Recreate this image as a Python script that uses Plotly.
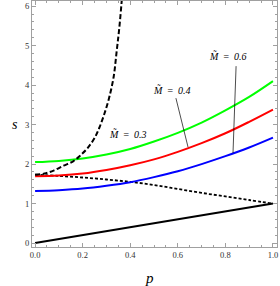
import plotly.graph_objects as go

# ---- data ----
p_grid = [0.0, 0.1, 0.2, 0.3, 0.4, 0.5, 0.6, 0.7, 0.8, 0.9, 1.0]
s_green = [2.05, 2.08, 2.14, 2.24, 2.38, 2.57, 2.79, 3.05, 3.36, 3.70, 4.10]
s_red = [1.69, 1.71, 1.76, 1.85, 1.97, 2.12, 2.31, 2.53, 2.78, 3.07, 3.38]
s_blue = [1.32, 1.34, 1.38, 1.45, 1.54, 1.67, 1.82, 2.00, 2.20, 2.42, 2.67]
s_dotted = [1.73, 1.70, 1.66, 1.61, 1.55, 1.47, 1.37, 1.27, 1.18, 1.09, 1.00]
s_solid = [0.0, 0.1, 0.2, 0.3, 0.4, 0.5, 0.6, 0.7, 0.8, 0.9, 1.0]

p_dashed = [0.0, 0.04, 0.08, 0.12, 0.16, 0.19, 0.22, 0.25, 0.27, 0.29, 0.31, 0.33, 0.343, 0.354, 0.364, 0.37]
s_dashed = [1.73, 1.76, 1.84, 1.96, 2.07, 2.22, 2.40, 2.66, 2.92, 3.25, 3.65, 4.20, 4.86, 5.45, 6.12, 6.6]

label_text = ["M\u0303 = 0.3", "M\u0303 = 0.4", "M\u0303 = 0.6"]
label_p = [0.391, 0.576, 0.811]
label_s = [2.76, 3.87, 4.73]
pointer_from_p = [None, 0.592, 0.845]
pointer_from_s = [None, 3.67, 4.48]
pointer_to_p = [None, 0.643, 0.832]
pointer_to_s = [None, 2.43, 2.28]

x_ticks = [0.0, 0.2, 0.4, 0.6, 0.8, 1.0]
x_ticklabels = ["0.0", "0.2", "0.4", "0.6", "0.8", "1.0"]
y_ticks = [0, 1, 2, 3, 4, 5, 6]
y_ticklabels = ["0", "1", "2", "3", "4", "5", "6"]

FONT = "Liberation Serif"
FRAME = "#a0a0a0"

fig = go.Figure()

fig.add_trace(go.Scatter(x=p_grid, y=s_solid, mode="lines",
                         line=dict(color="black", width=2)))
fig.add_trace(go.Scatter(x=p_grid, y=s_dotted, mode="lines", line_shape="spline",
                         line=dict(color="black", width=1.8, dash="3px,2px")))
fig.add_trace(go.Scatter(x=p_grid, y=s_blue, mode="lines", line_shape="spline",
                         line=dict(color="#0000ff", width=2)))
fig.add_trace(go.Scatter(x=p_grid, y=s_red, mode="lines", line_shape="spline",
                         line=dict(color="#ff0000", width=2)))
fig.add_trace(go.Scatter(x=p_grid, y=s_green, mode="lines", line_shape="spline",
                         line=dict(color="#00ff00", width=2)))
fig.add_trace(go.Scatter(x=p_dashed, y=s_dashed, mode="lines", line_shape="spline",
                         line=dict(color="black", width=2, dash="5px,2.5px")))

for i in range(len(label_text)):
    if pointer_from_p[i] is not None:
        fig.add_trace(go.Scatter(x=[pointer_from_p[i], pointer_to_p[i]],
                                 y=[pointer_from_s[i], pointer_to_s[i]],
                                 mode="lines", line=dict(color="black", width=0.7)))
    fig.add_annotation(x=label_p[i], y=label_s[i], xref="x", yref="y",
                       text="<i>" + label_text[i].replace(" = ", "&#8201; = &#8201;") + "</i>",
                       showarrow=False, font=dict(family=FONT, size=10, color="black"))

fig.add_annotation(x=0.48, xref="paper", y=-0.125, yref="paper", yanchor="middle",
                   text="<i>p</i>", showarrow=False,
                   font=dict(family=FONT, size=15, color="black"))
fig.add_annotation(x=-0.09, xref="paper", y=0.5, yref="paper",
                   text="<i>s</i>", showarrow=False,
                   font=dict(family=FONT, size=14, color="black"))

axis_common = dict(showline=True, linecolor=FRAME, linewidth=1, mirror="ticks",
                   ticks="inside", tickcolor=FRAME, ticklen=4, tickwidth=1,
                   showgrid=False, zeroline=False,
                   tickfont=dict(family=FONT, size=8.5, color="#333333"))

fig.update_xaxes(range=[-0.013, 1.017], tickvals=x_ticks, ticktext=x_ticklabels,
                 minor=dict(dtick=0.05, ticklen=2, tickcolor=FRAME, ticks="inside", showgrid=False),
                 **axis_common)
fig.update_yaxes(range=[-0.1, 6.13], tickvals=y_ticks, ticktext=y_ticklabels,
                 minor=dict(dtick=0.2, ticklen=2, tickcolor=FRAME, ticks="inside", showgrid=False),
                 **axis_common)

fig.update_layout(width=280, height=286, margin=dict(l=32, r=3, t=1, b=39),
                  paper_bgcolor="white", plot_bgcolor="white", showlegend=False)

fig.write_html("out.html", config={"displayModeBar": False},
               post_script="document.body.style.margin='0';document.body.style.overflow='hidden';")
